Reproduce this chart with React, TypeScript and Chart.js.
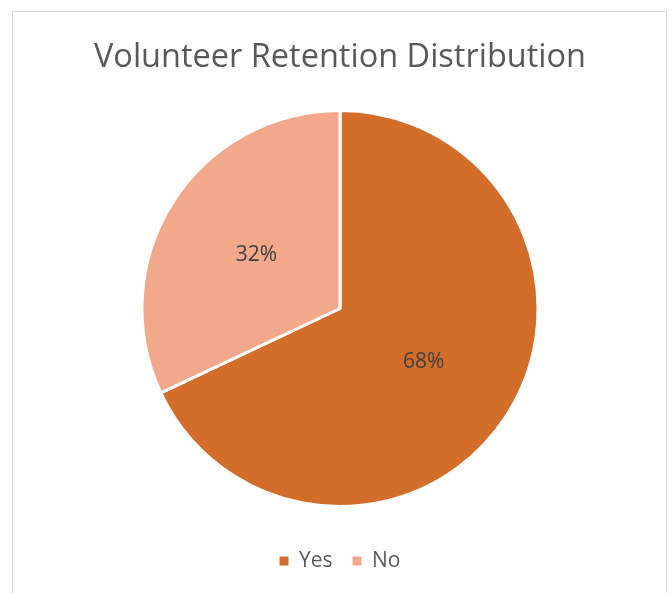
import React, { useEffect, useRef } from "react";
import { Chart, registerables } from "chart.js";

Chart.register(...registerables);

const TITLE = "Volunteer Retention Distribution";
const CATEGORIES = ["Yes", "No"];
const VALUES = [68, 32];
const COLORS = ["#D36E2A", "#F1A88B"];

const FONT = "'Open Sans', 'Noto Sans', sans-serif";

const pctLabels = {
  id: "pctLabels",
  afterDatasetsDraw(chart: any) {
    const ctx = chart.ctx;
    const meta = chart.getDatasetMeta(0);
    const data = chart.data.datasets[0].data as number[];
    const total = data.reduce((a, b) => a + b, 0);
    ctx.save();
    ctx.font = `21px ${FONT}`;
    ctx.fillStyle = "#404040";
    ctx.textAlign = "center";
    ctx.textBaseline = "middle";
    meta.data.forEach((arc: any, i: number) => {
      const p = arc.getCenterPoint();
      ctx.fillText(`${Math.round((data[i] / total) * 100)}%`, p.x, p.y);
    });
    ctx.restore();
  },
};

export default function App() {
  const ref = useRef<HTMLCanvasElement>(null);
  useEffect(() => {
    if (!ref.current) return;
    const chart = new Chart(ref.current, {
      type: "pie",
      data: {
        labels: CATEGORIES,
        datasets: [
          {
            data: VALUES,
            backgroundColor: COLORS,
            borderColor: "#FFFFFF",
            borderWidth: 3,
            radius: 198,
          },
        ],
      },
      options: {
        animation: false,
        responsive: false,
        devicePixelRatio: 1,
        layout: { padding: { left: 8, right: 0, top: 0, bottom: 11.5 } },
        plugins: {
          title: {
            display: true,
            text: TITLE,
            color: "#595959",
            font: { family: FONT, size: 32.5, weight: "normal" },
            padding: { top: 38, bottom: 9.5 },
          },
          legend: {
            display: true,
            position: "bottom",
            labels: {
              color: "#595959",
              font: { family: FONT, size: 21 },
              boxWidth: 9,
              boxHeight: 9,
              padding: 20,
              generateLabels: (chart: any) =>
                (Chart as any).overrides.pie.plugins.legend.labels
                  .generateLabels(chart)
                  .map((l: any) => ({ ...l, lineWidth: 0 })),
            },
          },
          tooltip: { enabled: false },
        },
      },
      plugins: [pctLabels],
    });
    return () => chart.destroy();
  }, []);
  return (
    <div style={{ position: "absolute", left: 0, top: 0, width: 672, height: 593, background: "#fff" }}>
      <div
        style={{
          position: "absolute",
          left: 12,
          top: 11,
          width: 655,
          height: 600,
          border: "1px solid #D9D9D9",
          boxSizing: "border-box",
        }}
      />
      <canvas ref={ref} width={672} height={593} style={{ position: "absolute", left: 0, top: 0, display: "block" }} />
    </div>
  );
}
